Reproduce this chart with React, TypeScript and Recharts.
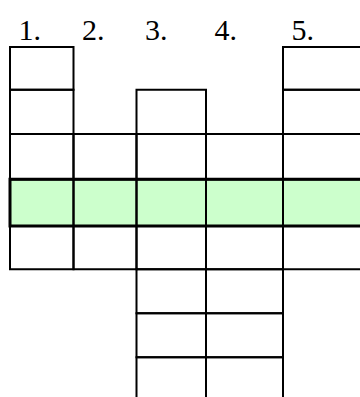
import React from 'react';
import { ComposedChart, XAxis, YAxis, ReferenceArea } from 'recharts';

// Crossword grid: five columns, each a vertical run of cells
const columnLabels = ['1.', '2.', '3.', '4.', '5.'];
const columnEdges = [0, 6.35, 12.65, 19.6, 27.3, 35.2];
const columnFirstRow = [0, 2, 1, 2, 0];
const columnLastRow = [4, 4, 7, 7, 4];
const rowEdges = [0, 4.27, 8.7, 13.23, 17.9, 22.23, 26.63, 31.03, 35.4];
const highlightedRow = 3;

const X_MAX = 36.2;
const FONT = '"Liberation Serif", "Times New Roman", serif';

const columnData = columnLabels.map((label, i) => ({ label, x: columnEdges[i] }));

type Cell = { key: string; x1: number; x2: number; y1: number; y2: number };
const cells: Cell[] = [];
columnLabels.forEach((_, c) => {
  for (let r = columnFirstRow[c]; r <= columnLastRow[c]; r++) {
    cells.push({
      key: `c${c}r${r}`,
      x1: columnEdges[c],
      x2: columnEdges[c + 1],
      y1: rowEdges[r],
      y2: rowEdges[r + 1],
    });
  }
});

function ColumnTick(props: any) {
  const { x, y, payload } = props;
  const idx = columnEdges.indexOf(payload.value);
  return (
    <text x={x} y={y} dx={8.5} dy={0.5} textAnchor="start" fontFamily={FONT} fontSize={30} fill="#000">
      {columnLabels[idx]}
    </text>
  );
}

export default function App() {
  return (
    <div style={{ position: 'absolute', left: 0, top: 0, width: 360, height: 397, overflow: 'hidden', background: '#fff' }}>
      <ComposedChart
        width={372}
        height={401}
        data={columnData}
        margin={{ top: 17, right: 0, bottom: 0, left: 10 }}
      >
        <XAxis
          dataKey="x"
          type="number"
          orientation="top"
          domain={[0, X_MAX]}
          allowDataOverflow
          ticks={columnEdges.slice(0, columnLabels.length)}
          interval={0}
          height={30}
          tickSize={6}
          tickMargin={2}
          axisLine={false}
          tickLine={false}
          tick={<ColumnTick />}
        />
        <YAxis type="number" hide reversed domain={[0, rowEdges[rowEdges.length - 1]]} allowDataOverflow />
        <ReferenceArea
          x1={0}
          x2={X_MAX}
          y1={rowEdges[highlightedRow]}
          y2={rowEdges[highlightedRow + 1]}
          fill="#ccffcc"
          fillOpacity={1}
          stroke="none"
          ifOverflow="visible"
        />
        {cells.map((c) => (
          <ReferenceArea
            key={c.key}
            x1={c.x1}
            x2={c.x2}
            y1={c.y1}
            y2={c.y2}
            fill="none"
            fillOpacity={0}
            stroke="#000"
            strokeWidth={2}
            ifOverflow="visible"
          />
        ))}
        <ReferenceArea
          x1={0}
          x2={X_MAX}
          y1={rowEdges[highlightedRow]}
          y2={rowEdges[highlightedRow + 1]}
          fill="none"
          fillOpacity={0}
          stroke="#000"
          strokeWidth={3}
          ifOverflow="visible"
        />
      </ComposedChart>
    </div>
  );
}
